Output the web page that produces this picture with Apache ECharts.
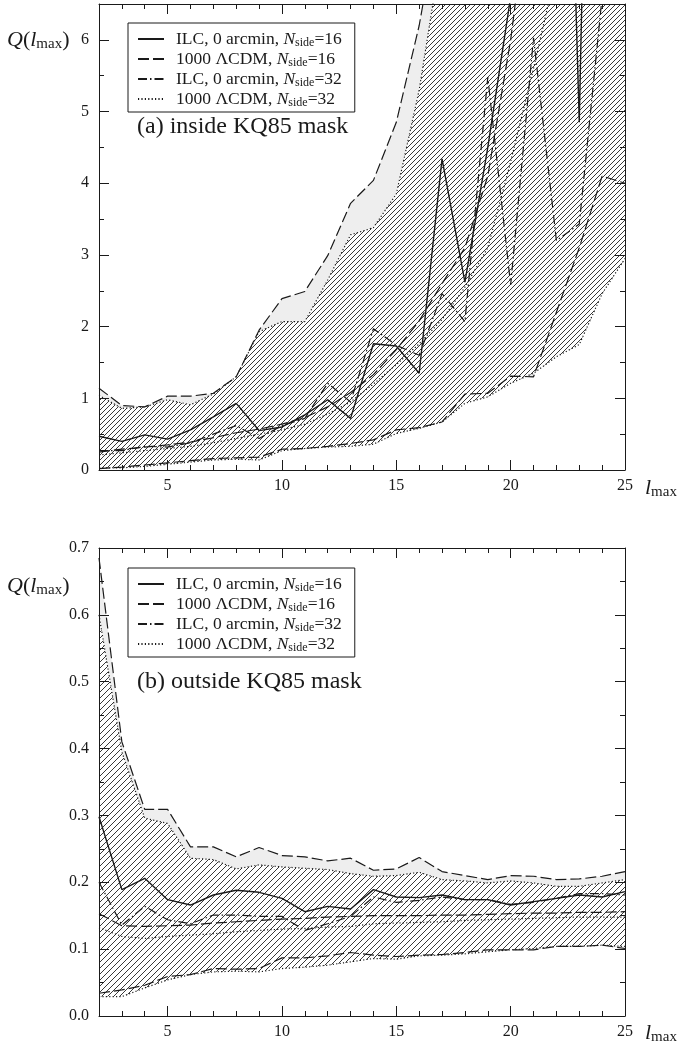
<!DOCTYPE html>
<html>
<head>
<meta charset="utf-8">
<script src="https://cdn.jsdelivr.net/npm/echarts@6/dist/echarts.min.js"></script>
<style>
html,body{margin:0;padding:0;background:#fff;}
#chart{width:689px;height:1047px;}
</style>
</head>
<body>
<div id="chart"></div>
<script>
// ---------------- data ----------------
const cats = ['2','3','4','5','6','7','8','9','10','11','12','13','14','15','16','17','18','19','20','21','22','23','24','25'];
const xTickLabels = ['5','10','15','20','25'];

// panel (a): inside KQ85 mask
const topIlc16 = [0.47,0.40,0.49,0.43,0.56,0.74,0.93,0.55,0.60,0.77,0.98,0.72,1.76,1.73,1.35,4.34,2.62,4.50,6.60,10.0,16.0,4.85,20.0,24.0];
const topIlc32 = [0.27,0.27,0.33,0.32,0.38,0.50,0.62,0.44,0.62,0.72,1.21,0.95,1.97,1.74,1.60,2.46,2.07,5.48,2.58,6.03,3.20,3.43,6.60,8.00];
const topMed16 = [0.25,0.29,0.32,0.35,0.39,0.45,0.52,0.57,0.64,0.73,0.88,1.08,1.33,1.68,2.08,2.60,3.10,4.10,6.00,8.50,11.0,14.0,17.0,20.0];
const topMed32 = [0.21,0.24,0.27,0.30,0.33,0.38,0.44,0.50,0.56,0.64,0.78,0.95,1.20,1.47,1.76,2.10,2.55,3.10,4.30,5.60,7.00,8.50,10.0,12.0];
const topUp16  = [1.14,0.90,0.88,1.03,1.03,1.07,1.30,1.95,2.39,2.49,2.99,3.72,4.04,4.85,6.20,8.00,10.0,12.0,14.0,16.0,18.0,20.0,22.0,24.0];
const topUp32  = [1.04,0.86,0.88,0.98,0.91,1.06,1.30,1.93,2.07,2.07,2.65,3.28,3.38,3.85,5.30,7.30,9.00,11.0,13.0,15.0,17.0,19.0,21.0,23.0];
const topLo16  = [0.02,0.04,0.07,0.10,0.13,0.16,0.17,0.18,0.29,0.30,0.33,0.37,0.42,0.56,0.59,0.67,1.06,1.07,1.31,1.30,2.20,3.10,4.10,4.00];
const topLo32  = [0.03,0.03,0.05,0.08,0.11,0.14,0.15,0.14,0.27,0.30,0.32,0.33,0.36,0.51,0.58,0.67,0.93,1.02,1.21,1.35,1.58,1.75,2.46,2.95];

// panel (b): outside KQ85 mask
const botIlc16 = [0.298,0.189,0.206,0.174,0.166,0.181,0.188,0.185,0.176,0.156,0.164,0.160,0.189,0.178,0.177,0.181,0.174,0.174,0.166,0.171,0.176,0.181,0.178,0.186];
const botIlc32 = [0.200,0.136,0.164,0.144,0.138,0.151,0.151,0.149,0.149,0.128,0.138,0.149,0.178,0.170,0.173,0.178,0.174,0.174,0.167,0.170,0.176,0.183,0.183,0.181];
const botMed16 = [0.153,0.135,0.134,0.135,0.136,0.139,0.141,0.143,0.145,0.146,0.148,0.149,0.150,0.150,0.150,0.151,0.151,0.152,0.153,0.154,0.154,0.155,0.155,0.156];
const botMed32 = [0.132,0.119,0.116,0.119,0.121,0.123,0.126,0.128,0.130,0.131,0.133,0.134,0.138,0.139,0.140,0.141,0.143,0.144,0.145,0.146,0.147,0.148,0.148,0.148];
const botUp16  = [0.685,0.410,0.309,0.309,0.253,0.253,0.238,0.252,0.240,0.238,0.232,0.236,0.218,0.220,0.237,0.216,0.210,0.204,0.210,0.209,0.204,0.205,0.209,0.216];
const botUp32  = [0.600,0.395,0.296,0.288,0.236,0.234,0.220,0.226,0.223,0.221,0.219,0.213,0.209,0.210,0.215,0.204,0.202,0.199,0.202,0.199,0.194,0.194,0.199,0.204];
const botLo16  = [0.034,0.039,0.046,0.059,0.062,0.071,0.070,0.071,0.087,0.087,0.090,0.095,0.091,0.089,0.091,0.092,0.095,0.099,0.099,0.099,0.104,0.104,0.106,0.101];
const botLo32  = [0.029,0.029,0.042,0.054,0.062,0.066,0.067,0.066,0.071,0.073,0.076,0.081,0.086,0.085,0.090,0.091,0.093,0.096,0.099,0.101,0.104,0.104,0.106,0.104];

// ---------------- styles ----------------
const FONT = "'Liberation Serif','Times New Roman',serif";
const INK = '#1a1a1a';
const legendNames = ['ILC16','L16','ILC32','L32'];

function makeHatch(s){
  const c = document.createElement('canvas');
  c.width = s; c.height = s;
  const g = c.getContext('2d');
  g.fillStyle = '#ffffff'; g.fillRect(0,0,s,s);
  g.strokeStyle = '#222'; g.lineWidth = 0.9;
  g.beginPath();
  g.moveTo(-1, s+1); g.lineTo(s+1, -1);
  g.moveTo(-1, 1); g.lineTo(1, -1);
  g.moveTo(s-1, s+1); g.lineTo(s+1, s-1);
  g.stroke();
  return c;
}
const hatchTop = {image: makeHatch(5), repeat: 'repeat'};
const hatchBot = {image: makeHatch(6), repeat: 'repeat'};

function clipPoly(pts, r){
  const x0=r.x, x1=r.x+r.width, y0=r.y, y1=r.y+r.height;
  const planes = [
    {inside:p=>p[1]>=y0, cut:(a,b)=>{const t=(y0-a[1])/(b[1]-a[1]);return [a[0]+t*(b[0]-a[0]), y0];}},
    {inside:p=>p[1]<=y1, cut:(a,b)=>{const t=(y1-a[1])/(b[1]-a[1]);return [a[0]+t*(b[0]-a[0]), y1];}},
    {inside:p=>p[0]>=x0, cut:(a,b)=>{const t=(x0-a[0])/(b[0]-a[0]);return [x0, a[1]+t*(b[1]-a[1])];}},
    {inside:p=>p[0]<=x1, cut:(a,b)=>{const t=(x1-a[0])/(b[0]-a[0]);return [x1, a[1]+t*(b[1]-a[1])];}}
  ];
  let out = pts;
  for (const pl of planes){
    const inp = out; out = [];
    for (let i=0;i<inp.length;i++){
      const cur = inp[i], prev = inp[(i+inp.length-1)%inp.length];
      const ci = pl.inside(cur), pi = pl.inside(prev);
      if (ci){ if(!pi) out.push(pl.cut(prev,cur)); out.push(cur); }
      else if (pi) out.push(pl.cut(prev,cur));
    }
    if (!out.length) break;
  }
  return out;
}

function band(xi, yi, upper, lower, fill){
  return {
    type:'custom', xAxisIndex: xi, yAxisIndex: yi, data:[0], silent:true, z:1,
    renderItem: function(params, api){
      const pts = [];
      for (let i=0;i<cats.length;i++) pts.push(api.coord([i, upper[i]]));
      for (let i=cats.length-1;i>=0;i--) pts.push(api.coord([i, lower[i]]));
      const cs = params.coordSys;
      const clipped = clipPoly(pts, {x:cs.x, y:cs.y, width:cs.width, height:cs.height});
      return {type:'polygon', shape:{points: clipped}, style:{fill: fill, stroke: null}};
    }
  };
}

const STY = {
  ILC16: {type:'solid', width:1.4},
  L16:   {type:[11,4], width:1.2},
  ILC32: {type:[9,3,1.5,3], width:1.2},
  L32:   {type:[1.2,2.2], width:1.2}
};
function line(xi, yi, name, key, data){
  return {
    type:'line', name: name, xAxisIndex: xi, yAxisIndex: yi, data: data,
    symbol:'none', showSymbol:false, silent:true, z:3,
    itemStyle:{color: INK},
    lineStyle: {color: INK, width: STY[key].width, type: STY[key].type}
  };
}

function panelSeries(xi, yi, d, hatch){
  return [
    band(xi, yi, d.u16, d.l16, '#eeeeee'),
    band(xi, yi, d.u32, d.l32, hatch),
    line(xi, yi, 'u16', 'L16', d.u16),
    line(xi, yi, 'l16', 'L16', d.l16),
    line(xi, yi, 'u32', 'L32', d.u32),
    line(xi, yi, 'l32', 'L32', d.l32),
    line(xi, yi, 'L32', 'L32', d.m32),
    line(xi, yi, 'L16', 'L16', d.m16),
    line(xi, yi, 'ILC32', 'ILC32', d.i32),
    line(xi, yi, 'ILC16', 'ILC16', d.i16)
  ];
}

const isMajor = (i, v) => xTickLabels.indexOf(String(v)) >= 0;
function xAx(gi, pos, major, labels){
  return {
    type:'category', gridIndex: gi, data: cats, boundaryGap:false, position: pos, z:5,
    axisLine:{show: major, lineStyle:{color: INK, width:1}},
    axisTick:{show:true, inside:true, length: major?10:5, interval: major?isMajor:0, lineStyle:{color: INK, width:1}},
    axisLabel:{show: labels, interval: isMajor, margin: 8, fontFamily: FONT, fontSize: 16, color: INK},
    splitLine:{show:false}
  };
}
function yAx(gi, pos, min, max, interval, labels, fmt){
  return {
    type:'value', gridIndex: gi, position: pos, min, max, interval, z:5,
    axisLine:{show:true, lineStyle:{color: INK, width:1}},
    axisTick:{show:true, inside:true, length:10, lineStyle:{color: INK, width:1}},
    minorTick:{show:true, splitNumber:2, length:5, lineStyle:{color: INK, width:1}},
    axisLabel:{show: labels, margin: 10, fontFamily: FONT, fontSize: 16, color: INK, formatter: fmt},
    splitLine:{show:false}
  };
}

const richLegend = {
  t: {fontFamily: FONT, fontSize: 17.5, color: INK, lineHeight: 20},
  i: {fontFamily: FONT, fontSize: 17.5, fontStyle:'italic', color: INK, lineHeight: 20},
  s: {fontFamily: FONT, fontSize: 12, color: INK, lineHeight: 20, padding:[8,0,0,0]}
};
const legendText = {
  ILC16: '{t|ILC, 0 arcmin, }{i|N}{s|side}{t|=16}',
  L16:   '{t|1000 ΛCDM, }{i|N}{s|side}{t|=16}',
  ILC32: '{t|ILC, 0 arcmin, }{i|N}{s|side}{t|=32}',
  L32:   '{t|1000 ΛCDM, }{i|N}{s|side}{t|=32}'
};
function legendAt(top){
  return {
    data: legendNames, orient:'vertical', left:128, top: top,
    itemWidth:26, itemHeight:12, itemGap:0, selectedMode:false,
    backgroundColor:'#fff', borderColor: INK, borderWidth:1, borderRadius:0,
    padding:[6,13,3,9],
    itemStyle:{opacity:0},
    formatter: n => legendText[n],
    textStyle:{rich: richLegend, padding:[0,0,0,7]}
  };
}

const richAxisName = {
  q: {fontFamily: FONT, fontSize: 22, fontStyle:'italic', fill: INK},
  p: {fontFamily: FONT, fontSize: 22, fill: INK},
  s: {fontFamily: FONT, fontSize: 15, fill: INK, padding:[9,0,0,0]}
};
function txt(x, y, text, rich, font){
  const st = {text, fill: INK, verticalAlign:'middle', align:'left'};
  if (rich) st.rich = rich; else st.font = font;
  return {type:'text', x, y, silent:true, style: st};
}

const option = {
  animation:false,
  backgroundColor:'#fff',
  grid:[
    {left:99, top:4, width:526, height:466},
    {left:99, top:548, width:526, height:468}
  ],
  xAxis:[
    xAx(0,'bottom',true,true), xAx(0,'bottom',false,false), xAx(0,'top',true,false), xAx(0,'top',false,false),
    xAx(1,'bottom',true,true), xAx(1,'bottom',false,false), xAx(1,'top',true,false), xAx(1,'top',false,false)
  ],
  yAxis:[
    yAx(0,'left',0,6.5,1,true, v => (Math.abs(v-Math.round(v))<1e-9 ? String(Math.round(v)) : '')),
    yAx(0,'right',0,6.5,1,false),
    yAx(1,'left',0,0.7,0.1,true, v => v.toFixed(1)),
    yAx(1,'right',0,0.7,0.1,false)
  ],
  legend:[legendAt(23), legendAt(568)],
  series: [].concat(
    panelSeries(0, 0, {u16:topUp16,l16:topLo16,u32:topUp32,l32:topLo32,m16:topMed16,m32:topMed32,i16:topIlc16,i32:topIlc32}, hatchTop),
    panelSeries(4, 2, {u16:botUp16,l16:botLo16,u32:botUp32,l32:botLo32,m16:botMed16,m32:botMed32,i16:botIlc16,i32:botIlc32}, hatchBot)
  ),
  graphic:[
    txt(7, 40, '{q|Q}{p|(}{q|l}{s|max}{p|)}', richAxisName),
    txt(7, 586, '{q|Q}{p|(}{q|l}{s|max}{p|)}', richAxisName),
    txt(645, 488, '{q|l}{s|max}', richAxisName),
    txt(645, 1033, '{q|l}{s|max}', richAxisName),
    txt(137, 127, '(a) inside KQ85 mask', null, "24px 'Liberation Serif', serif"),
    txt(137, 682, '(b) outside KQ85 mask', null, "24px 'Liberation Serif', serif")
  ]
};

const chart = echarts.init(document.getElementById('chart'), null, {renderer:'canvas'});
chart.setOption(option);
</script>
</body>
</html>
